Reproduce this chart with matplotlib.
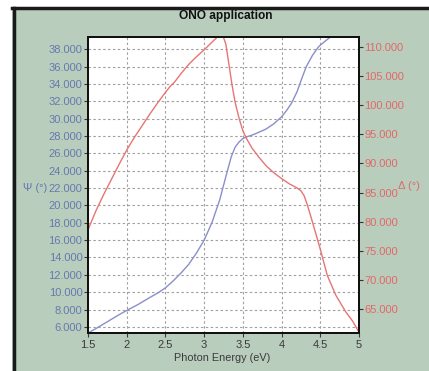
import matplotlib
matplotlib.use('Agg')
import matplotlib.pyplot as plt
from matplotlib.patches import Rectangle
from matplotlib.lines import Line2D
from matplotlib.ticker import FormatStrFormatter

plt.rcParams['font.family'] = ['Liberation Sans', 'DejaVu Sans']

# Psi vs photon energy
psi_energy = [1.5, 1.6, 1.75, 1.9, 2.0, 2.15, 2.3, 2.4, 2.5, 2.6, 2.7, 2.8, 2.9,
              3.0, 3.1, 3.2, 3.28, 3.35, 3.4, 3.45, 3.5, 3.55, 3.62, 3.7, 3.8,
              3.9, 4.0, 4.07, 4.13, 4.2, 4.26, 4.32, 4.4, 4.48, 4.56, 4.63, 4.75, 5.0]
psi = [5.3, 5.8, 6.6, 7.4, 7.9, 8.6, 9.4, 9.9, 10.5, 11.3, 12.2, 13.2, 14.5,
       16.0, 18.0, 20.6, 23.3, 25.6, 26.7, 27.3, 27.7, 27.9, 28.1, 28.4, 28.8,
       29.4, 30.2, 31.0, 31.8, 33.1, 34.6, 36.0, 37.3, 38.3, 38.9, 39.4, 39.9, 40.5]

# Delta vs photon energy
delta_energy = [1.5, 1.6, 1.7, 1.8, 1.9, 2.0, 2.1, 2.2, 2.3, 2.4, 2.5, 2.56, 2.62,
                2.7, 2.8, 2.9, 3.0, 3.1, 3.18, 3.24, 3.28, 3.32, 3.36, 3.4, 3.45,
                3.5, 3.55, 3.62, 3.7, 3.8, 3.9, 4.0, 4.1, 4.2, 4.25, 4.29, 4.33,
                4.38, 4.45, 4.51, 4.59, 4.7, 4.83, 4.92, 5.0]
delta = [78.6, 81.8, 84.6, 87.2, 89.8, 92.3, 94.5, 96.5, 98.5, 100.4, 102.2, 103.2, 104.0,
         105.4, 107.0, 108.3, 109.5, 110.8, 111.8, 112.0, 110.5, 107.0, 103.5, 100.5, 97.8,
         95.6, 94.2, 92.6, 91.2, 89.6, 88.4, 87.4, 86.5, 85.8, 85.3, 84.5, 83.0,
         80.8, 77.6, 74.8, 70.8, 67.4, 64.5, 62.9, 61.0]

psi_ticks = list(range(6, 40, 2))
delta_ticks = list(range(65, 115, 5))
energy_ticks = [1.5, 2, 2.5, 3, 3.5, 4, 4.5, 5]

blue = '#8a8fc8'
red = '#e87474'
blue_txt = '#6579b0'
red_txt = '#e26868'

fig = plt.figure(figsize=(4.29, 3.71), dpi=100)
fig.patch.set_facecolor('white')

# panel background with a dark border on the left and top
fig.patches.append(Rectangle((12 / 429, 0), 1, 1 - 8 / 371, transform=fig.transFigure,
                             facecolor='#b9cdbd', edgecolor='none', zorder=-10))
fig.lines.append(Line2D([13.5 / 429, 13.5 / 429], [0, 1 - 8 / 371], transform=fig.transFigure,
                        color='#1a1a1a', lw=2.5))
fig.lines.append(Line2D([12 / 429, 1], [1 - 8 / 371, 1 - 8 / 371], transform=fig.transFigure,
                        color='#1a1a1a', lw=2.5))

ax = fig.add_axes([88 / 429, 1 - 333 / 371, 271 / 429, 296 / 371])
ax.set_facecolor('white')
ax2 = ax.twinx()

ax.plot(psi_energy, psi, color=blue, lw=1.0)
ax2.plot(delta_energy, delta, color=red, lw=1.0)

ax.set_xlim(1.5, 5.0)
ax.set_ylim(5.3, 39.4)
ax2.set_ylim(60.9, 111.7)

ax.set_xticks(energy_ticks)
ax.xaxis.set_major_formatter(FormatStrFormatter('%g'))
ax.set_yticks(psi_ticks)
ax.yaxis.set_major_formatter(FormatStrFormatter('%.3f'))
ax2.set_yticks(delta_ticks)
ax2.yaxis.set_major_formatter(FormatStrFormatter('%.3f'))

ax.grid(True, color='#a0a0a0', linestyle=(0, (2.2, 2.2)), lw=0.8)

ax.tick_params(axis='x', labelsize=8, colors='#3a3a3a', length=3, pad=2)
ax.tick_params(axis='y', labelsize=8, length=3, pad=1, color='#333333', labelcolor=blue_txt)
ax2.tick_params(axis='y', labelsize=8, length=3, pad=1, color='#333333', labelcolor=red_txt)

for a in (ax, ax2):
    for s in a.spines.values():
        s.set_color('#111111')
        s.set_linewidth(1.4)

fig.text(226 / 429, 1 - 16 / 371, 'ONO application', ha='center', va='center',
         fontsize=8.6, fontweight='bold', color='#111111')
fig.text(222 / 429, 1 - 358 / 371, 'Photon Energy (eV)', ha='center', va='center',
         fontsize=7.8, color='#3a3a3a')
fig.text(35 / 429, 1 - 188 / 371, 'Ψ (°)', ha='center', va='center',
         fontsize=8, color=blue_txt)
fig.text(398 / 429, 1 - 186 / 371, 'Δ (°)', ha='left', va='center',
         fontsize=8, color=red_txt)

fig.savefig('out.png', dpi=100, facecolor=fig.get_facecolor())
